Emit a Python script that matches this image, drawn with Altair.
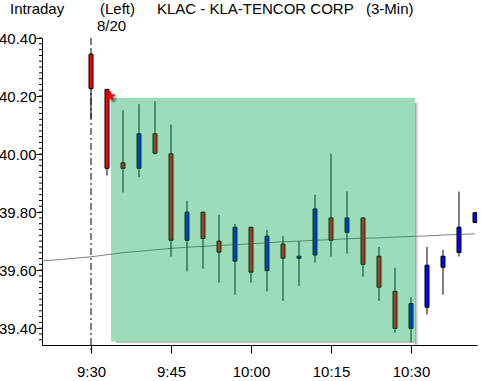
import altair as alt
import pandas as pd

# ---- data (3-min candles, 8/20) ----
times = ["9:30", "9:33", "9:36", "9:39", "9:42", "9:45", "9:48", "9:51", "9:54",
         "9:57", "10:00", "10:03", "10:06", "10:09", "10:12", "10:15", "10:18",
         "10:21", "10:24", "10:27", "10:30", "10:33", "10:36", "10:39", "10:42"]
opens = [40.344, 40.223, 39.970, 39.951, 40.070, 40.001, 39.703, 39.800, 39.700,
         39.631, 39.748, 39.598, 39.690, 39.641, 39.652, 39.780, 39.730, 39.780,
         39.648, 39.527, 39.399, 39.472, 39.610, 39.661, 39.764]
highs = [40.358, 40.223, 40.151, 40.172, 40.182, 40.102, 39.839, 39.800, 39.791,
         39.759, 39.748, 39.739, 39.717, 39.699, 39.860, 40.001, 39.871, 39.780,
         39.680, 39.608, 39.507, 39.680, 39.670, 39.871, 39.798]
lows = [40.123, 39.926, 39.868, 39.920, 39.999, 39.647, 39.595, 39.605, 39.557,
        39.515, 39.557, 39.526, 39.494, 39.546, 39.626, 39.647, 39.657, 39.578,
        39.494, 39.384, 39.350, 39.447, 39.515, 39.647, 39.764]
closes = [40.226, 39.951, 39.951, 40.070, 40.003, 39.703, 39.800, 39.709, 39.662,
          39.748, 39.593, 39.717, 39.641, 39.648, 39.811, 39.703, 39.780, 39.620,
          39.541, 39.399, 39.485, 39.617, 39.648, 39.748, 39.798]

ma_times = ["9:18", "9:21", "9:24", "9:27"] + times
ma_values = [39.621, 39.632, 39.636, 39.641, 39.646, 39.653, 39.660, 39.665, 39.670,
             39.675, 39.679, 39.682, 39.685, 39.688, 39.691, 39.694, 39.698, 39.700,
             39.703, 39.705, 39.708, 39.710, 39.711, 39.714, 39.716, 39.718, 39.721,
             39.723, 39.725]

y_ticks = [39.40, 39.60, 39.80, 40.00, 40.20, 40.40]
y_minor = [round(39.36 + 0.02 * k, 2) for k in range(53)]
x_tick_labels = ["9:30", "9:45", "10:00", "10:15", "10:30"]

title_left = "Intraday"
title_side = "(Left)"
title_main = "KLAC - KLA-TENCOR CORP"
title_int = "(3-Min)"
date_label = "8/20"

# highlight box (time, price)
box_t = ["9:33:45", "10:30:45"]
box_p = [40.194, 39.354]
star_t = "9:33:38"
star_p = 40.199


def to_min(s):
    parts = [int(p) for p in s.split(":")]
    m = (parts[0] - 9) * 60 + parts[1] - 30
    if len(parts) > 2:
        m += parts[2] / 60
    return m


FONT = "Liberation Sans"

df = pd.DataFrame({"t": [to_min(s) for s in times], "open": opens, "high": highs,
                   "low": lows, "close": closes})
df["dir"] = ["up" if c >= o else "down" for o, c in zip(opens, closes)]
ma = pd.DataFrame({"t": [to_min(s) for s in ma_times], "v": ma_values})
minor = pd.DataFrame({"v": [v for v in y_minor if v >= 39.35]})
box = pd.DataFrame({"t1": [to_min(box_t[0])], "t2": [to_min(box_t[1])],
                    "p1": [box_p[0]], "p2": [box_p[1]]})
star = pd.DataFrame({"t": [to_min(star_t)], "p": [star_p]})

XS = alt.Scale(domain=[-9.19, 72.375], nice=False, zero=False, padding=0)
YS = alt.Scale(domain=[39.342, 40.40], nice=False, zero=False, padding=0)

xaxis = alt.Axis(values=[to_min(s) for s in x_tick_labels],
                 labelExpr="floor((datum.value+570)/60) + ':' + (((datum.value+570)%60) < 10 ? '0' : '') + ((datum.value+570)%60)",
                 title=None, grid=False, tickSize=8, labelPadding=11,
                 labelFont=FONT, labelFontSize=15, labelColor="black",
                 tickColor="black", domainColor="black", labelFlush=False)
yaxis = alt.Axis(values=y_ticks, format=".2f", title=None, grid=False, tickSize=6,
                 labelPadding=0, labelFont=FONT, labelFontSize=15, labelColor="black",
                 tickColor="black", domainColor="black", labelFlush=False)


def X(f):
    return alt.X(f, scale=XS, axis=xaxis)


def Y(f):
    return alt.Y(f, scale=YS, axis=yaxis)


base = alt.Chart(df)

ma_line = alt.Chart(ma).mark_line(color="#808080", strokeWidth=1, clip=True).encode(
    x=X("t:Q"), y=Y("v:Q"))

sep = alt.Chart(pd.DataFrame({"t": [0]})).mark_rule(
    color="black", strokeWidth=1, strokeDash=[7, 3, 2, 3]).encode(
    x=X("t:Q"), y=alt.value(0), y2=alt.value(315))

wicks = base.mark_rule(color="black", strokeWidth=1, clip=True).encode(
    x=X("t:Q"), y=Y("low:Q"), y2="high:Q")

bodies = base.mark_bar(size=4, stroke="black", strokeWidth=1, clip=True).encode(
    x=X("t:Q"), y=Y("open:Q"), y2="close:Q",
    color=alt.Color("dir:N", scale=alt.Scale(domain=["down", "up"],
                                             range=["#ff0000", "#0000ff"]), legend=None))

overlay = alt.Chart(box).mark_rect(fill="rgb(0,166,76)", opacity=0.39).encode(
    x=X("t1:Q"), x2="t2:Q", y=Y("p1:Q"), y2="p2:Q")

grad_h = alt.Gradient(gradient="linear", x1=0, x2=1, y1=0, y2=0,
                      stops=[alt.GradientStop(color="rgba(90,90,90,0.65)", offset=0),
                             alt.GradientStop(color="rgba(255,255,255,0)", offset=1)])
grad_v = alt.Gradient(gradient="linear", x1=0, x2=0, y1=0, y2=1,
                      stops=[alt.GradientStop(color="rgba(90,90,90,0.65)", offset=0),
                             alt.GradientStop(color="rgba(255,255,255,0)", offset=1)])

shadow_r = alt.Chart(box).mark_rect(fill=grad_h, x2Offset=5, yOffset=5, y2Offset=3).encode(
    x=X("t2:Q"), x2="t2:Q", y=Y("p1:Q"), y2="p2:Q")
shadow_b = alt.Chart(box).mark_rect(fill=grad_v, xOffset=5, y2Offset=3).encode(
    x=X("t1:Q"), x2="t2:Q", y=Y("p2:Q"), y2="p2:Q")

star_path = ("M0,-1 L0.22,-0.31 L0.95,-0.31 L0.36,0.12 L0.59,0.81 L0,0.38 "
             "L-0.59,0.81 L-0.36,0.12 L-0.95,-0.31 L-0.22,-0.31 Z")
star_shadow = alt.Chart(star).mark_point(shape="circle", filled=True, color="#222222",
                                         opacity=0.3, size=45, xOffset=3, yOffset=3).encode(
    x=X("t:Q"), y=Y("p:Q"))
star_mark = alt.Chart(star).mark_point(shape=star_path, filled=True, color="#ff0000",
                                       opacity=1, size=110, stroke="#a00000",
                                       strokeWidth=0.6).encode(x=X("t:Q"), y=Y("p:Q"))

minor_ticks = alt.Chart(minor).mark_rule(color="black", strokeWidth=1).encode(
    y=Y("v:Q"), x=alt.value(-3), x2=alt.value(0))


def label(txt, xa, ya):
    return alt.Chart(pd.DataFrame({"s": [txt]})).mark_text(
        font=FONT, fontSize=15, color="black", align="left", baseline="alphabetic").encode(
        text="s:N", x=alt.value(xa - 42), y=alt.value(ya - 38))


texts = [label(title_left, 10, 14), label(title_side, 100, 14),
         label(title_main, 157, 14), label(title_int, 366, 14),
         label(date_label, 97, 31)]

chart = alt.layer(ma_line, sep, wicks, bodies, overlay, shadow_r, shadow_b,
                  minor_ticks, star_shadow, star_mark, *texts).properties(
    width=435, height=307,
    padding={"left": 42, "top": 38, "right": 4, "bottom": 36},
    autosize=alt.AutoSizeParams(type="none"),
    background="white",
).configure_view(stroke=None)

chart.save("out.html", embed_options={"renderer": "svg", "actions": False})
